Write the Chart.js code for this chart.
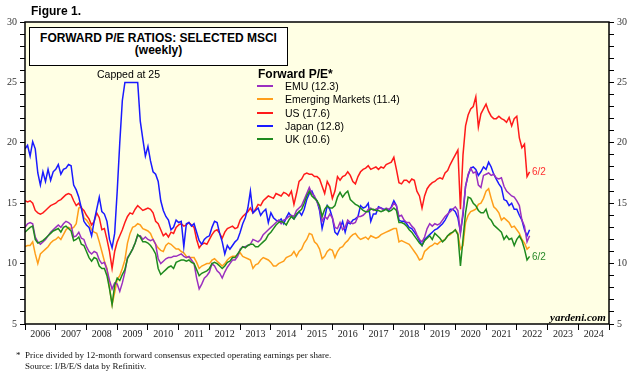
<!DOCTYPE html>
<html>
<head>
<meta charset="utf-8">
<script src="https://cdn.jsdelivr.net/npm/chart.js@4.4.1/dist/chart.umd.min.js"></script>
<style>
  html, body { margin: 0; padding: 0; background: #fff; }
  #wrap { position: relative; width: 639px; height: 386px; overflow: hidden;
          font-family: "Liberation Sans", Arial, sans-serif; color: #000; }
  #pe { position: absolute; left: 0; top: 0; }
  .t { position: absolute; white-space: nowrap; line-height: 1; transform: translateY(-50%); }
  .fig { left: 31px; top: 11px; font-size: 12px; font-weight: bold; }
  .titlebox { position: absolute; left: 29px; top: 27px; width: 257px; height: 33px;
              border: 1px solid #000; background: #fff; text-align: center;
              font-weight: bold; font-size: 12px; line-height: 12px; padding-top: 4px; box-sizing: content-box; }
  .capped { left: 97px; top: 74px; font-size: 10.5px; }
  .lghead { left: 258px; top: 74px; font-size: 12px; font-weight: bold; }
  .lgline { position: absolute; left: 257px; width: 16px; height: 2px; }
  .lgtext { left: 285px; font-size: 10.5px; }
  .end { left: 532px; font-size: 10px; }
  .yard { left: 550px; top: 317px; font-family: "Liberation Serif", serif; font-style: italic;
          font-weight: bold; font-size: 11px; }
  .foot { font-family: "Liberation Serif", serif; font-size: 9px; color: #111; }
</style>
</head>
<body>
<div id="wrap">
  <canvas id="pe" width="639" height="386"></canvas>
  <div class="t fig">Figure 1.</div>
  <div class="titlebox">FORWARD P/E RATIOS: SELECTED MSCI<br>(weekly)</div>
  <div class="t capped">Capped at 25</div>
  <div class="t lghead">Forward P/E*</div>
  <div id="legend"></div>
  <div class="t end" style="top:172px;color:#ff3030">6/2</div>
  <div class="t end" style="top:257px;color:#2a8a2a">6/2</div>
  <div class="t yard">yardeni.com</div>
  <div class="t foot" style="left:16px;top:355px">*</div>
  <div class="t foot" style="left:25px;top:355px">Price divided by 12-month forward consensus expected operating earnings per share.</div>
  <div class="t foot" style="left:25px;top:366px">Source: I/B/E/S data by Refinitiv.</div>
</div>
<script>
// monthly readings, Jan 2006 .. Jun 2022
const startYear = 2006;
const years = [2006, 2007, 2008, 2009, 2010, 2011, 2012, 2013, 2014, 2015,
  2016, 2017, 2018, 2019, 2020, 2021, 2022, 2023, 2024];
const yTicks = [5, 10, 15, 20, 25, 30];

const emu = [
  13.0, 13.3, 13.4, 13.3, 12.2, 11.8, 11.6, 11.8, 12.0, 12.3,
  12.6, 12.8, 13.0, 13.2, 13.0, 13.3, 13.5, 13.4, 13.2, 12.2,
  12.3, 12.6, 12.1, 12.0, 11.4, 11.0, 10.8, 11.0, 10.9, 10.3,
  10.0, 10.1, 9.5, 8.6, 7.9, 8.4, 8.3, 7.7, 8.4, 9.3,
  10.5, 10.8, 11.2, 11.7, 12.3, 12.3, 12.0, 12.2, 12.0, 11.9,
  12.0, 11.6, 10.4, 10.0, 10.2, 10.4, 10.5, 10.5, 10.6, 10.6,
  10.7, 10.8, 10.6, 10.5, 10.6, 10.3, 10.0, 8.8, 7.9, 8.3,
  8.8, 9.0, 9.3, 10.0, 9.8, 9.4, 9.2, 8.8, 9.3, 9.7,
  10.0, 10.3, 10.3, 10.6, 11.2, 11.4, 11.4, 11.5, 11.6, 12.0,
  11.9, 11.8, 12.0, 12.4, 12.6, 12.8, 13.0, 13.2, 13.4, 13.6,
  13.3, 13.6, 13.7, 13.9, 14.0, 13.9, 14.4, 14.6, 14.8, 15.3,
  15.8, 16.3, 15.8, 15.6, 15.1, 14.6, 13.5, 13.9, 13.7, 14.1,
  13.8, 13.0, 12.9, 13.4, 12.8, 13.0, 13.6, 13.4, 13.3, 13.4,
  13.9, 13.9, 14.0, 14.2, 14.5, 14.6, 14.4, 14.5, 14.6, 14.6,
  14.4, 14.6, 14.5, 14.6, 15.0, 14.8, 13.9, 14.0, 13.6, 13.4,
  13.4, 13.1, 12.9, 12.4, 12.0, 11.8, 12.2, 12.9, 13.3, 13.1,
  13.3, 13.2, 13.3, 13.6, 13.9, 14.1, 14.3, 14.5, 14.7, 14.4,
  12.5, 14.3, 16.4, 17.4, 17.9, 17.5, 17.6, 16.5, 16.3, 17.3,
  17.4, 17.5, 17.3, 17.4, 17.1, 17.0, 17.1, 16.4, 16.0, 15.8,
  15.6, 15.5, 15.2, 14.8, 13.6, 13.1, 11.8, 12.3
];

const emerging = [
  11.4, 11.5, 11.5, 11.8, 10.8, 10.0, 10.8, 11.0, 11.2, 11.4,
  11.7, 11.9, 12.0, 12.2, 12.0, 12.4, 12.8, 13.0, 12.9, 13.0,
  13.3, 14.6, 14.7, 13.8, 13.6, 13.3, 12.8, 12.6, 12.5, 11.8,
  11.0, 10.2, 9.6, 8.0, 6.6, 7.6, 8.7, 9.0, 9.6, 10.3,
  11.7, 12.5, 13.0, 13.1, 13.3, 13.2, 12.9, 12.8, 12.7, 12.5,
  12.0, 11.6, 11.3, 11.1, 11.0, 11.5, 11.7, 11.6, 11.4, 11.2,
  11.2, 11.0, 10.9, 10.6, 10.5, 10.5, 10.5, 10.1, 9.6, 9.8,
  9.9, 10.0, 10.0, 10.3, 10.4, 10.2, 10.0, 9.8, 10.0, 10.3,
  10.5, 10.6, 10.6, 10.7, 10.9, 10.6, 10.5, 10.4, 10.3, 9.6,
  9.9, 10.0, 10.3, 10.5, 10.4, 10.3, 10.1, 9.8, 9.8, 10.0,
  10.1, 10.2, 10.5, 10.6, 10.7, 11.0, 10.6, 11.0, 11.2, 11.7,
  12.0, 12.5, 12.4, 11.8, 11.6, 11.2, 10.4, 10.6, 11.0, 11.2,
  11.1, 10.5, 11.0, 11.3, 11.4, 11.7, 11.9, 12.2, 12.4, 12.5,
  12.2, 12.0, 12.1, 12.2, 12.0, 12.3, 12.2, 12.1, 12.2, 12.4,
  12.5, 12.6, 12.7, 12.8, 12.9, 12.9, 11.8, 11.9, 11.8, 11.7,
  11.6, 11.3, 11.0, 10.7, 10.3, 10.4, 11.0, 11.2, 11.4, 11.5,
  11.7, 11.6, 11.8, 11.9, 12.0, 12.3, 12.4, 12.6, 12.8, 12.5,
  11.2, 11.5, 13.4, 14.0, 14.3, 14.4, 14.5, 14.9, 15.0, 15.4,
  16.0, 16.2, 15.4, 14.7, 14.5, 14.2, 13.6, 13.8, 13.6, 13.4,
  13.0, 13.1, 12.8, 12.5, 12.0, 11.7, 11.2, 11.4
];

const us = [
  15.2, 15.1, 15.2, 15.0, 14.4, 14.2, 14.1, 14.2, 14.4, 14.6,
  14.8, 14.9, 15.0, 15.2, 15.3, 15.5, 15.7, 15.8, 15.7, 15.2,
  14.8, 15.0, 14.6, 14.4, 14.0, 13.7, 13.2, 13.5, 14.2, 13.8,
  12.8, 12.9, 12.0, 11.0, 9.6, 11.0, 11.8, 12.3, 12.8, 13.4,
  13.9, 14.2, 14.1, 14.5, 14.8, 14.6, 14.4, 14.5, 14.6, 14.5,
  14.2, 13.5, 13.3, 12.8, 12.3, 12.5, 12.2, 12.6, 12.5, 13.0,
  13.2, 13.3, 13.1, 13.2, 13.4, 13.2, 13.0, 12.0, 11.3, 11.6,
  11.7, 11.6, 12.0, 12.4, 12.7, 12.8, 12.5, 12.1, 12.6, 12.9,
  13.0, 13.1, 12.9, 13.0, 13.6, 13.9, 14.1, 14.3, 14.6, 14.2,
  14.5, 14.9, 14.8, 15.2, 15.4, 15.6, 15.5, 15.4, 15.8, 15.7,
  15.6, 15.9, 15.8, 15.6, 16.0, 14.9, 15.8, 16.8, 17.0, 17.4,
  17.5, 17.4, 17.4, 17.2, 17.2, 17.0, 16.4, 15.8, 16.8, 16.4,
  15.4, 16.0, 17.2, 16.9, 17.2, 17.3, 17.6, 17.3, 16.8, 16.6,
  17.2, 17.6, 17.8, 17.9, 18.1, 17.8, 17.9, 18.0, 17.8, 18.0,
  17.9, 18.2, 18.3, 18.4, 18.8, 17.8, 16.7, 16.6, 16.9, 16.9,
  16.7, 17.0, 16.9, 16.0, 15.6, 14.6, 15.6, 16.2, 16.5, 16.7,
  16.8, 17.0, 17.1, 17.0, 17.5, 17.7, 18.2, 18.6, 19.0, 19.4,
  14.5, 19.0, 21.4, 22.3, 22.8, 23.0, 23.8, 21.3, 22.4, 22.8,
  23.2, 22.6, 22.2, 22.0, 22.0, 22.2, 22.0, 21.9, 21.7, 22.1,
  21.4, 22.0, 22.2, 20.4, 19.6, 19.9, 17.2, 17.6
];

// Japan is capped at 25 in the source chart
const japan = [
  19.5, 19.8, 18.9, 20.1, 19.5, 17.5, 16.5, 17.6, 16.8, 17.8,
  16.9, 17.6, 17.8, 18.2, 17.4, 17.8, 17.9, 18.2, 18.1, 16.5,
  16.1, 15.5, 14.6, 13.5, 13.2, 13.0, 12.3, 13.5, 14.5, 15.5,
  14.3, 14.1, 13.5, 12.0, 11.3, 12.5, 16.0, 20.0, 23.5, 25.0,
  25.0, 25.0, 25.0, 25.0, 25.0, 21.8, 20.3, 18.9, 19.7, 18.5,
  17.6, 17.4, 16.8, 15.2, 14.4, 13.9, 13.6, 12.8, 13.0, 13.6,
  13.4, 13.5, 11.4, 13.3, 13.4, 13.1, 13.3, 12.6, 11.9, 11.6,
  12.0, 12.2, 12.3, 13.0, 13.5, 13.4, 12.5, 11.8, 10.8, 11.5,
  11.2, 11.5, 11.8, 12.0, 12.6, 13.3, 13.8, 14.6, 16.0, 14.2,
  14.4, 14.6, 14.0, 14.3, 14.5, 13.4, 14.2, 13.8, 13.6, 13.5,
  13.7, 13.3, 13.8, 14.2, 13.9, 13.7, 14.0, 14.3, 14.0, 14.5,
  15.3, 15.8, 16.0, 15.5, 15.2, 14.4, 12.9, 13.8, 14.8, 14.5,
  13.8, 12.6, 12.4, 12.9, 13.5, 12.6, 13.4, 13.3, 13.6, 13.7,
  13.9, 14.8, 14.6, 14.7, 15.0, 13.5, 14.1, 14.1, 14.7, 14.6,
  14.5, 14.5, 14.4, 14.7, 15.2, 14.8, 13.6, 13.5, 13.5, 13.3,
  13.0, 12.9, 12.6, 12.3, 11.9, 11.5, 12.0, 12.2, 12.4, 12.6,
  12.8, 12.9, 13.1, 13.3, 13.6, 14.0, 14.5, 14.5, 14.3, 13.8,
  12.6, 14.0, 16.4, 17.3, 17.9, 18.0, 17.8, 17.3, 17.6, 18.0,
  17.8, 18.4, 18.0, 17.4, 17.0, 16.6, 16.3, 15.3, 15.2, 14.8,
  15.0, 14.5, 14.5, 14.0, 13.6, 12.8, 12.3, 12.8
];

const uk = [
  12.6, 12.8, 13.0, 13.1, 12.0, 11.7, 11.8, 11.9, 12.1, 12.3,
  12.5, 12.7, 12.8, 12.9, 12.6, 13.0, 13.1, 12.9, 12.7, 11.9,
  12.0, 12.2, 11.6, 11.5, 11.0, 10.5, 10.2, 10.5, 10.4, 9.8,
  9.6, 9.6, 9.0, 7.9, 6.6, 8.2, 8.8, 8.6, 9.1, 9.5,
  10.4, 10.8, 11.2, 11.7, 12.4, 12.2, 11.8, 11.8, 11.7, 11.5,
  11.2, 10.8, 9.6, 9.1, 9.3, 9.5, 9.7, 9.8, 9.6, 10.1,
  10.2, 10.3, 10.3, 10.2, 10.3, 10.1, 10.0, 9.5, 9.0, 9.2,
  9.3, 9.4, 9.6, 10.0, 10.1, 10.0, 9.8, 9.6, 9.8, 10.1,
  10.2, 10.5, 10.5, 10.8, 11.1, 11.4, 11.3, 11.5, 11.6, 11.6,
  11.4, 11.4, 11.6, 11.8, 12.0, 12.4, 12.6, 12.9, 13.2, 13.4,
  13.5, 13.4, 13.2, 13.6, 13.9, 13.7, 14.1, 14.3, 14.5, 15.0,
  15.6, 16.0, 15.6, 15.4, 15.2, 14.8, 13.9, 14.5, 14.8, 14.6,
  14.6, 14.8, 15.5, 15.9, 15.5, 15.8, 16.0, 15.3, 15.1, 14.9,
  14.8, 14.6, 14.4, 14.3, 14.3, 14.5, 14.5, 14.4, 14.4, 14.3,
  14.4, 14.5, 14.3, 14.4, 14.6, 14.4, 13.4, 13.4, 13.3, 13.1,
  12.8, 12.6, 12.3, 12.0, 11.7, 11.5, 11.9, 12.1, 12.3, 12.0,
  12.5, 12.3, 12.1, 11.8, 12.0, 12.3, 12.5, 12.6, 12.8, 12.4,
  9.8, 12.0, 14.2, 15.5, 15.4, 15.0, 14.8, 14.4, 14.2, 14.2,
  14.5, 13.8, 13.6, 13.2, 13.0, 12.8, 12.6, 12.0, 12.3, 12.0,
  12.1, 11.5, 12.0, 12.3, 11.9, 11.2, 10.3, 10.6
];

const seriesNames = ["EMU", "Emerging Markets", "US", "Japan", "UK"];
const seriesData = [emu, emerging, us, japan, uk];
const seriesColors = ["#9b30c0", "#ff9e1a", "#ff1a1a", "#1a1aff", "#1e8a1e"];

// legend (html, last reading in brackets)
const legendBox = document.getElementById("legend");
seriesNames.forEach((name, i) => {
  const y = 86 + i * 13.3;
  const last = seriesData[i][seriesData[i].length - 1];
  legendBox.insertAdjacentHTML("beforeend",
    `<div class="lgline" style="top:${y - 1}px;background:${seriesColors[i]}"></div>` +
    `<div class="t lgtext" style="top:${y}px">${name} (${last.toFixed(1)})</div>`);
});

const toPoints = (vals) => vals.map((v, i) => ({ x: startYear + i / 12, y: v }));

// plot background + frame
const plotFrame = {
  id: "plotFrame",
  beforeDatasetsDraw(chart) {
    const { ctx, chartArea: a } = chart;
    ctx.save();
    ctx.fillStyle = "#ffffe4";
    ctx.fillRect(a.left, a.top, a.right - a.left, a.bottom - a.top);
    ctx.restore();
  },
  afterDatasetsDraw(chart) {
    const { ctx, chartArea: a } = chart;
    ctx.save();
    ctx.strokeStyle = "#000";
    ctx.lineWidth = 1.5;
    ctx.strokeRect(a.left, a.top, a.right - a.left, a.bottom - a.top);
    ctx.restore();
  },
};

// year labels sit between the year ticks
const yearLabels = {
  id: "yearLabels",
  afterDraw(chart) {
    const { ctx, chartArea, scales } = chart;
    ctx.save();
    ctx.font = "10px 'Liberation Serif'";
    ctx.fillStyle = "#222";
    ctx.textAlign = "center";
    ctx.textBaseline = "middle";
    years.forEach((yr) => {
      ctx.fillText(String(yr), scales.x.getPixelForValue(yr + 0.5), chartArea.bottom + 10);
    });
    ctx.restore();
  },
};

const yAxis = (position, width) => ({
  type: "linear",
  position,
  min: 5,
  max: 30,
  afterFit: (s) => { s.width = width; },
  ticks: {
    stepSize: 1,
    autoSkip: false,
    padding: 3,
    color: "#333",
    font: { size: 10, family: "'Liberation Serif', serif" },
    callback: (v) => (yTicks.includes(v) ? v : ""),
  },
  grid: { drawOnChartArea: false, drawTicks: true, tickLength: 5, tickColor: "#000", tickWidth: 1 },
  border: { display: false },
});

new Chart(document.getElementById("pe").getContext("2d"), {
  type: "line",
  data: {
    // first dataset is drawn on top
    datasets: [4, 0, 3, 2, 1].map((i) => ({
      label: seriesNames[i],
      data: toPoints(seriesData[i]),
      borderColor: seriesColors[i],
      borderWidth: 1.5,
      pointRadius: 0,
      tension: 0,
      fill: false,
    })),
  },
  options: {
    responsive: false,
    animation: false,
    events: [],
    layout: { padding: { top: 22, left: 0, right: 0, bottom: 0 } },
    plugins: { legend: { display: false }, tooltip: { enabled: false } },
    scales: {
      x: {
        type: "linear",
        min: 2006,
        max: 2025,
        afterFit: (s) => { s.height = 62; },
        ticks: { stepSize: 1, autoSkip: false, callback: () => "" },
        grid: { drawOnChartArea: false, drawTicks: true, tickLength: 6, tickColor: "#000" },
        border: { display: false },
      },
      y: yAxis("left", 25),
      y2: yAxis("right", 30),
    },
  },
  plugins: [plotFrame, yearLabels],
});
</script>
</body>
</html>
